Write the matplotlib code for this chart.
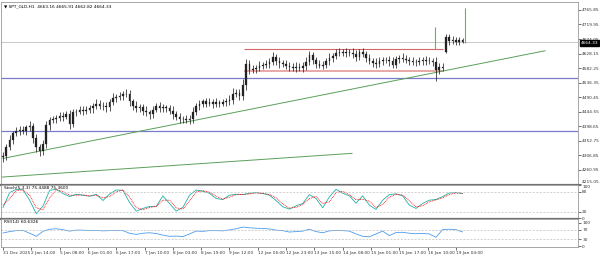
import numpy as np
import matplotlib
matplotlib.use("Agg")
import matplotlib.pyplot as plt
import matplotlib.transforms as mtransforms

# SPT_GLD H1, drawn as 2-hour candles (close values)
closes = [4305, 4332, 4356, 4376, 4382, 4388, 4385, 4395, 4398, 4363,
          4332, 4320, 4341, 4401, 4417, 4420, 4426, 4432, 4429, 4436,
          4407, 4442, 4445, 4451, 4448, 4451, 4455, 4464, 4470, 4464,
          4461, 4458, 4474, 4489, 4492, 4495, 4499, 4502, 4477, 4464,
          4455, 4458, 4448, 4442, 4436, 4451, 4461, 4455, 4458, 4455,
          4448, 4436, 4429, 4423, 4420, 4417, 4423, 4445, 4461, 4470,
          4477, 4470, 4474, 4470, 4474, 4470, 4474, 4477, 4483, 4502,
          4505, 4495, 4530, 4596, 4577, 4580, 4583, 4590, 4593, 4596,
          4602, 4618, 4605, 4599, 4596, 4590, 4587, 4583, 4587, 4583,
          4590, 4602, 4624, 4608, 4596, 4590, 4593, 4605, 4615, 4621,
          4631, 4634, 4631, 4634, 4631, 4628, 4618, 4634, 4628, 4615,
          4605, 4599, 4596, 4605, 4608, 4608, 4605, 4593, 4612, 4615,
          4612, 4608, 4605, 4602, 4602, 4605, 4608, 4605, 4605, 4602,
          4577, 4587, 4583, 4681, 4668, 4671, 4665, 4671, 4664.33]
first_open = 4300
gap_open = {133: 4632}  # Monday gap

wick_hi = [12, 10, 15, 9, 13, 10, 12, 9, 16, 10,
           12, 9, 15, 13, 10, 12, 9, 13, 10, 12,
           15, 10, 9, 12, 13, 10, 12, 9, 15, 10,
           12, 13, 10, 16, 9, 12, 10, 13, 12, 9,
           15, 10, 12, 13, 9, 10, 12, 15, 10, 9,
           12, 13, 10, 12, 9, 15, 10, 13, 12, 10,
           9, 12, 13, 10, 15, 9, 12, 10, 13, 16,
           12, 10, 18, 16, 13, 12, 10, 15, 9, 12,
           13, 16, 10, 12, 9, 13, 10, 12, 15, 10,
           13, 16, 12, 10, 9, 13, 12, 10, 15, 9,
           12, 13, 10, 12, 9, 15, 12, 10, 13, 9,
           12, 10, 15, 12, 10, 9, 13, 12, 10, 9,
           15, 12, 10, 13, 9, 12, 10, 12, 13, 10,
           14, 12, 10, 10, 10, 12, 9, 10, 6]
wick_lo = [15, 12, 10, 13, 9, 12, 10, 13, 10, 16,
           15, 16, 12, 10, 13, 9, 12, 10, 13, 9,
           16, 10, 12, 9, 13, 10, 12, 15, 10, 12,
           10, 13, 12, 9, 15, 10, 12, 9, 13, 15,
           12, 10, 13, 12, 15, 10, 9, 12, 10, 13,
           12, 15, 10, 13, 12, 9, 12, 15, 10, 12,
           10, 12, 9, 13, 10, 12, 9, 12, 10, 15,
           12, 13, 15, 16, 12, 10, 13, 9, 12, 10,
           13, 10, 12, 15, 10, 12, 13, 9, 12, 10,
           12, 15, 10, 12, 13, 9, 12, 10, 13, 12,
           10, 12, 9, 13, 10, 15, 12, 10, 12, 13,
           10, 12, 13, 9, 12, 10, 15, 12, 10, 13,
           12, 10, 13, 9, 12, 10, 12, 13, 10, 12,
           37, 12, 10, 3, 12, 10, 9, 10, 4]

# indicators, every 4 hours
stoch_main = [33, 78, 88, 86, 55, 14, 37, 85, 88, 75,
              66, 73, 70, 67, 73, 54, 74, 86, 85, 48,
              22, 30, 36, 36, 68, 45, 22, 33, 70, 86,
              82, 76, 60, 57, 70, 73, 72, 76, 78, 75,
              70, 54, 35, 28, 38, 45, 72, 60, 32, 65,
              88, 76, 68, 46, 68, 40, 27, 55, 72, 74,
              68, 40, 30, 45, 55, 57, 66, 77, 78, 75.45]
stoch_sig = [40, 60, 84, 87, 70, 32, 26, 62, 87, 81,
             70, 70, 71, 68, 70, 62, 66, 80, 86, 64,
             33, 26, 33, 36, 55, 55, 32, 28, 52, 80,
             84, 79, 67, 58, 64, 72, 72, 74, 77, 76,
             72, 62, 44, 31, 33, 42, 60, 66, 45, 50,
             78, 82, 72, 56, 58, 52, 33, 42, 64, 73,
             71, 53, 35, 38, 50, 56, 62, 72, 77, 75.36]
rsi = [56, 62, 66, 67, 55, 42, 63, 72, 74, 70,
       64, 68, 68, 66, 67, 65, 66, 67, 66, 55,
       50, 55, 57, 54, 47, 42, 43, 41, 52, 64,
       63, 66, 66, 65, 69, 74, 81, 78, 76, 75,
       73, 68, 66, 60, 62, 64, 72, 62, 57, 65,
       67, 66, 64, 52, 42, 40, 52, 64, 45, 58,
       59, 55, 53, 54, 52, 38, 70, 72, 70, 60.63]

# drawn objects (hour, price)
blue_levels = [4552, 4385]
red_box = [4643, 4572]
red_box_span = [145, 264]
green_lines = [((0, 4297), (325.5, 4637)), ((-0.6, 4238), (209.6, 4313))]
green_marks = [(259.3, 4643, 4712), (277.5, 4662, 4772)]
last_price = 4664.33

price_ticks = [4215.05, 4260.95, 4306.85, 4352.75, 4398.65, 4444.55, 4490.45,
               4536.35, 4582.25, 4628.15, 4674.05, 4719.95, 4765.85]
date_labels = ["31 Dec 2025", "2 Jan 14:00", "5 Jan 08:00", "6 Jan 01:00",
               "6 Jan 17:00", "7 Jan 10:00", "8 Jan 03:00", "8 Jan 19:00",
               "9 Jan 12:00", "12 Jan 06:00", "12 Jan 23:00", "13 Jan 15:00",
               "14 Jan 08:00", "15 Jan 01:00", "15 Jan 17:00", "16 Jan 10:00",
               "19 Jan 04:00"]

closes = np.array(closes, dtype=float)
n = len(closes)
hours = 2 * np.arange(n)
opens = np.concatenate([[first_open], closes[:-1]])
for k, v in gap_open.items():
    opens[k] = v
highs = np.maximum(opens, closes) + np.array(wick_hi)
lows = np.minimum(opens, closes) - np.array(wick_lo)
ind_hours = 4 * np.arange(len(rsi))

fs = 3.1
frame = '#9a9a9a'
fig = plt.figure(figsize=(6, 2.57), dpi=100)
ax = fig.add_axes([1 / 600, 1 - 185 / 257, 577 / 600, 183 / 257])
ax_st = fig.add_axes([1 / 600, 1 - 219 / 257, 577 / 600, 34 / 257], sharex=ax)
ax_rsi = fig.add_axes([1 / 600, 1 - 247 / 257, 577 / 600, 28 / 257], sharex=ax)

# price panel
ax.axhline(last_price, color='#c8c8c8', lw=0.7, zorder=1)
for lv in blue_levels:
    ax.axhline(lv, color='#7b7bcc', lw=0.9, zorder=1)
ax.hlines(red_box[0], *red_box_span, color='#d06a6a', lw=0.8, zorder=1)
ax.hlines(red_box[1], *red_box_span, color='#e8a0a0', lw=1.3, zorder=1)
for (x0, y0), (x1, y1) in green_lines:
    ax.plot([x0, x1], [y0, y1], color='#5aa05a', lw=0.7, zorder=1)
for x, y0, y1 in green_marks:
    ax.vlines(x, y0, y1, color='#5cb85c', lw=0.8, zorder=1)

ax.vlines(hours, lows, highs, color='#111111', lw=0.5, zorder=3)
ax.bar(hours, closes - opens, bottom=opens, width=1.0,
       color='#222222', edgecolor='#222222', lw=0.2, zorder=4)

ax.set_ylim(4213, 4791)
ax.set_xlim(-1.2, 345.3)
ax.yaxis.tick_right()
ax.set_yticks(price_ticks)
ax.set_yticklabels([f"{v:.2f}" for v in price_ticks], fontsize=fs)
ax.tick_params(axis='y', length=2, width=0.5, pad=1, colors='#333333')
ax.tick_params(axis='x', bottom=False, labelbottom=False)
ax.get_yticklabels()[0].set_va('bottom')
ax.text(0.005, 0.985, "\u25bc SPT_GLD,H1  4663.16 4665.91 4662.82 4664.33",
        transform=ax.transAxes, fontsize=fs, va='top', ha='left')
trans = mtransforms.blended_transform_factory(ax.transAxes, ax.transData)
ax.text(1.004, last_price - 3, f"{last_price:.2f}", transform=trans, fontsize=fs,
        color='white', va='center', ha='left', zorder=10,
        bbox=dict(boxstyle='square,pad=0.15', fc='black', ec='black'))

# stochastic panel
ax_st.plot(ind_hours, stoch_main, color='#20b2aa', lw=0.6)
ax_st.plot(ind_hours, stoch_sig, color='red', lw=0.6, ls=(0, (1, 1)))
for lv in [80, 20]:
    ax_st.axhline(lv, color='#c0c0c0', lw=0.5, ls=(0, (3, 2)))
ax_st.set_ylim(-2, 101)
ax_st.yaxis.tick_right()
ax_st.set_yticks([100, 80, 20, 0])
ax_st.set_yticklabels(["100", "80", "20", "0"], fontsize=fs)
ax_st.tick_params(axis='y', length=2, width=0.5, pad=1, colors='#333333')
ax_st.tick_params(axis='x', bottom=False, labelbottom=False)
ax_st.get_yticklabels()[0].set_va('top')
ax_st.text(0.005, 0.96, "Stoch(5,3,3) 75.4488 75.3600", transform=ax_st.transAxes,
           fontsize=fs, va='top', ha='left')

# RSI panel
ax_rsi.plot(ind_hours, rsi, color='#4a9cf0', lw=0.6)
for lv in [70, 30]:
    ax_rsi.axhline(lv, color='#c0c0c0', lw=0.5, ls=(0, (3, 2)))
ax_rsi.set_ylim(-3, 115)
ax_rsi.yaxis.tick_right()
ax_rsi.set_yticks([100, 70, 30, 0])
ax_rsi.set_yticklabels(["100", "70", "30", "0"], fontsize=fs)
ax_rsi.tick_params(axis='y', length=2, width=0.5, pad=1, colors='#333333')
ax_rsi.text(0.005, 0.95, "RSI(14) 60.6326", transform=ax_rsi.transAxes,
            fontsize=fs, va='top', ha='left')
ax_rsi.set_xticks(17 * np.arange(len(date_labels)))
ax_rsi.set_xticklabels(date_labels, fontsize=fs, ha='left')
ax_rsi.tick_params(axis='x', length=2, width=0.5, pad=1, colors='#333333')

for a in (ax, ax_st, ax_rsi):
    for s in a.spines.values():
        s.set_color(frame)
        s.set_linewidth(0.6)
ax.spines['bottom'].set_color('#707070')
ax.spines['bottom'].set_linewidth(1.6)
ax_st.spines['bottom'].set_color('#707070')
ax_st.spines['bottom'].set_linewidth(1.6)

fig.savefig("out.png", dpi=100)
